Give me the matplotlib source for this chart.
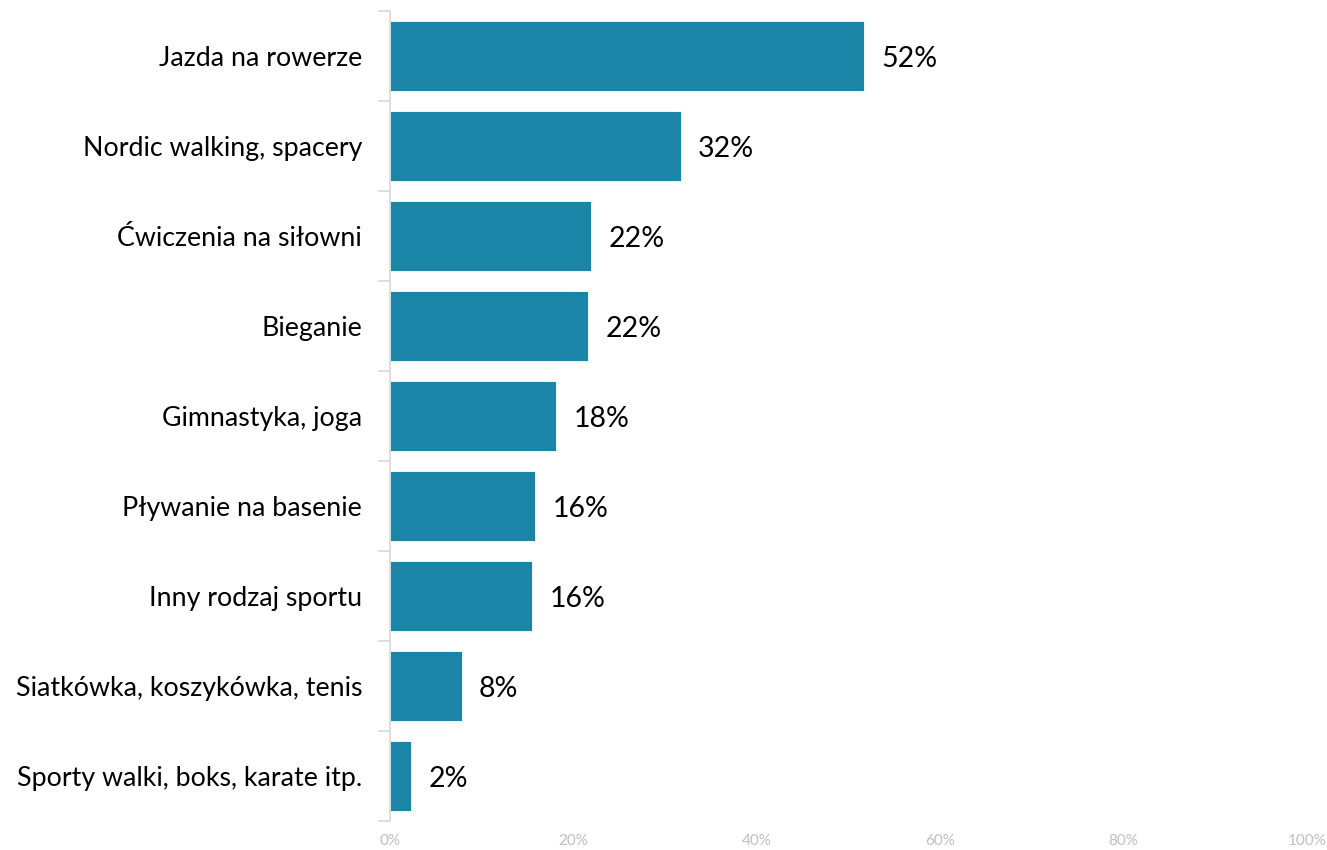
import numpy as np
import matplotlib.pyplot as plt

plt.rcParams['font.family'] = ['Lato', 'DejaVu Sans']

# categories and values (share of respondents, %)
categories = ['Jazda na rowerze', 'Nordic walking, spacery', 'Ćwiczenia na siłowni',
              'Bieganie', 'Gimnastyka, joga', 'Pływanie na basenie',
              'Inny rodzaj sportu', 'Siatkówka, koszykówka, tenis',
              'Sporty walki, boks, karate itp.']
values = [51.7, 31.7, 21.9, 21.6, 18.1, 15.8, 15.5, 7.8, 2.3]
xticks = [0, 20, 40, 60, 80, 100]

bar_color = '#1A85A6'
grey = '#D9D9D9'

fig = plt.figure(figsize=(13.27, 8.5), dpi=100)
ax = fig.add_axes([0.2939, 0.034, 0.985 - 0.2939, 0.953])

y = np.arange(len(categories))
ax.barh(y, values, height=0.78, color=bar_color, edgecolor='white', linewidth=0.6)

for yi, v in zip(y, values):
    ax.text(v + 1.9, yi, f'{round(v):.0f}%', va='center_baseline', ha='left',
            fontsize=20.5, color='black')

ax.set_xlim(0, 100)
ax.set_ylim(len(categories) - 0.5, -0.5)

ax.set_yticks(y)
ax.set_yticklabels(categories, fontsize=19.3)
ax.set_yticks(np.arange(len(categories) + 1) - 0.5, minor=True)
ax.tick_params(axis='y', which='major', length=0, pad=20)
ax.tick_params(axis='y', which='minor', length=9, color=grey, width=1.2)

ax.set_xticks(xticks)
ax.set_xticklabels([f'{t}%' for t in xticks], fontsize=11, color='#BFBFBF')
ax.tick_params(axis='x', length=0, pad=9)

for s in ['top', 'right', 'bottom']:
    ax.spines[s].set_visible(False)
ax.spines['left'].set_color(grey)
ax.spines['left'].set_linewidth(1.2)

fig.savefig('out.png', dpi=100)
